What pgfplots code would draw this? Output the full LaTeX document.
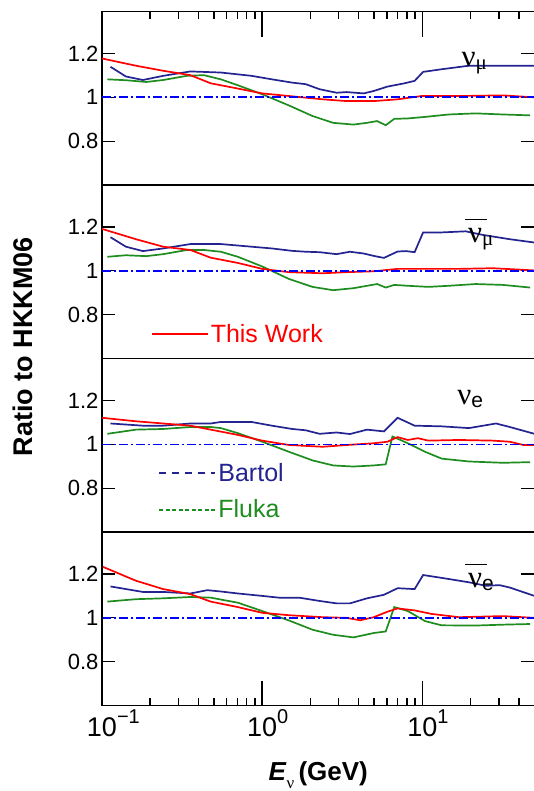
\documentclass[border=0pt]{standalone}
\usepackage{fontspec}
\setmainfont{Liberation Sans}
\newfontfamily\greekfont{Liberation Serif}
\usepackage{pgfplots}
\pgfplotsset{compat=1.18}
\definecolor{cred}{RGB}{255,0,0}
\definecolor{cnavy}{RGB}{35,35,145}
\definecolor{cgreen}{RGB}{30,140,30}
\definecolor{cblue}{RGB}{0,0,255}
\newcommand{\nusym}[1]{{\greekfont\fontsize{31}{31}\selectfont ν}\raisebox{-0.28em}{\fontsize{21}{21}\selectfont #1}}
\newcommand{\nubarsym}[1]{\makebox[0pt][l]{\hspace{-3pt}\raisebox{23pt}{\rule{22pt}{1.3pt}}}\nusym{#1}}
\pgfplotsset{
  myfluxpanel/.style={
    xmin=0.1, xmax=50, ymin=0.6, ymax=1.39,
    scale only axis, width=432.4pt, height=173.5pt,
    anchor=north west,
    axis line style={line width=1.5pt},
    tick align=inside,
    tick style={black, line width=1.2pt},
    major tick length=13pt, minor tick length=7.5pt,
    ytick={0.8,1,1.2}, yticklabels={0.8,1,1.2}, ytick pos=both, yticklabel pos=left,
    yticklabel style={font=\fontsize{22}{22}\selectfont},
    xticklabel style={font=\fontsize{27}{27}\selectfont},
    xtick=\empty, xminorticks=false,
    unbounded coords=jump,
    legend image code/.code={\draw[##1] (0pt,0pt) -- (46pt,0pt); \path (0pt,0pt) -- (56pt,0pt);},
  },
  myxtickaxis/.style={
    xmin=0.1, xmax=50, ymin=0.6, ymax=1.39,
    scale only axis, width=432.4pt, height=173.5pt,
    anchor=north west,
    axis line style={line width=1.5pt},
    tick align=inside,
    tick style={black, line width=1.2pt},
    major tick length=25pt, minor tick length=7.5pt,
    ytick=\empty,
    xtick={0.1,1,10},
    minor xtick={0.2,0.3,0.4,0.5,0.6,0.7,0.8,0.9,2,3,4,5,6,7,8,9,20,30,40},
    xticklabel style={font=\fontsize{27}{27}\selectfont},
  },
  tickseg/.style={black, line width=1.5pt, mark=none, forget plot},
  thiswork/.style={cred, line width=1.7pt, mark=none, forget plot},
  bartol/.style={cnavy, line width=1.7pt, mark=none, forget plot},
  fluka/.style={cgreen, line width=1.7pt, mark=none, forget plot},
  hkkm/.style={cblue, line width=1.7pt, dash pattern=on 9pt off 3pt on 2pt off 3pt, mark=none, forget plot},
}
\begin{document}
\begin{tikzpicture}
\path[use as bounding box] (-102pt,11.7pt) rectangle (431pt,-779.3pt);
% ---------- panel 1: nu_mu
\begin{semilogxaxis}[myfluxpanel, name=p1, at={(0pt,0pt)}]
\addplot[fluka] coordinates {(0.108,1.082) (0.141,1.078) (0.189,1.070) (0.241,1.079) (0.339,1.098) (0.433,1.101) (0.552,1.082) (0.705,1.055) (1.0,1.014) (1.47,0.963) (2.06,0.915) (2.77,0.884) (3.71,0.876) (4.51,0.884) (5.22,0.892) (5.90,0.873) (6.67,0.902) (8.11,0.904) (10.4,0.911) (14.6,0.922) (21.5,0.927) (31.8,0.922) (47.0,0.918)};
\addplot[bartol] coordinates {(0.113,1.139) (0.141,1.095) (0.180,1.079) (0.241,1.098) (0.356,1.118) (0.552,1.113) (0.857,1.098) (1.15,1.082) (1.54,1.067) (1.87,1.060) (2.28,1.037) (2.91,1.021) (3.36,1.024) (4.30,1.018) (4.97,1.029) (6.05,1.049) (7.73,1.064) (8.94,1.075) (10.1,1.116) (13.2,1.128) (19.5,1.144) (27.5,1.144) (50,1.144)};
\addplot[thiswork] coordinates {(0.1,1.177) (0.163,1.144) (0.241,1.121) (0.356,1.101) (0.477,1.064) (0.705,1.040) (1.0,1.018) (1.47,1.006) (2.39,0.991) (3.36,0.983) (4.97,0.983) (7.0,0.991) (9.86,1.006) (16.9,1.006) (31.8,1.009) (50,1.0)};
\addplot[hkkm] coordinates {(0.1,1) (50,1)};
% x tick marks along the top edge (major, then minor)
\addplot[tickseg] coordinates {(1,1.39) (1,1.276) (1,nan) (10,1.39) (10,1.276)};
\addplot[tickseg] coordinates {(0.2,1.39) (0.2,1.356) (0.2,nan) (0.3,1.39) (0.3,1.356) (0.3,nan) (0.4,1.39) (0.4,1.356) (0.4,nan) (0.5,1.39) (0.5,1.356) (0.5,nan) (0.6,1.39) (0.6,1.356) (0.6,nan) (0.7,1.39) (0.7,1.356) (0.7,nan) (0.8,1.39) (0.8,1.356) (0.8,nan) (0.9,1.39) (0.9,1.356) (0.9,nan) (2,1.39) (2,1.356) (2,nan) (3,1.39) (3,1.356) (3,nan) (4,1.39) (4,1.356) (4,nan) (5,1.39) (5,1.356) (5,nan) (6,1.39) (6,1.356) (6,nan) (7,1.39) (7,1.356) (7,nan) (8,1.39) (8,1.356) (8,nan) (9,1.39) (9,1.356) (9,nan) (20,1.39) (20,1.356) (20,nan) (30,1.39) (30,1.356) (30,nan) (40,1.39) (40,1.356)};
\node[anchor=base west, inner sep=0pt] at (axis cs:17.5,1.139) {\nusym{\greekfont μ}};
\end{semilogxaxis}
% ---------- panel 2: anti nu_mu
\begin{semilogxaxis}[myfluxpanel, name=p2, at={(0pt,-173.5pt)},
  ylabel={Ratio to HKKM06},
  ylabel style={font=\bfseries\fontsize{27}{27}\selectfont, at={(axis description cs:-0.183,0.07)}, anchor=center},
  legend cell align=left,
  legend style={draw=none, fill=none, at={(axis description cs:0.113,0.144)}, anchor=west, inner sep=0pt, font=\fontsize{25}{25}\selectfont}]
\addlegendimage{cred, line width=1.7pt}
\addlegendentry{\textcolor{cred}{This Work}}
\addplot[fluka] coordinates {(0.108,1.064) (0.141,1.071) (0.189,1.067) (0.241,1.076) (0.339,1.095) (0.433,1.095) (0.552,1.087) (0.705,1.064) (1.0,1.020) (1.47,0.963) (2.06,0.927) (2.77,0.912) (3.71,0.921) (4.51,0.932) (5.22,0.940) (5.90,0.924) (6.67,0.936) (8.11,0.932) (10.9,0.927) (14.6,0.932) (21.5,0.940) (31.8,0.936) (47.0,0.924)};
\addplot[bartol] coordinates {(0.113,1.153) (0.141,1.110) (0.180,1.090) (0.241,1.102) (0.356,1.122) (0.552,1.122) (0.857,1.110) (1.15,1.102) (1.54,1.091) (1.87,1.087) (2.28,1.085) (2.91,1.076) (3.53,1.087) (4.30,1.079) (4.97,1.068) (5.75,1.059) (7.0,1.088) (7.9,1.090) (8.94,1.085) (10.1,1.175) (13.2,1.175) (18.6,1.180) (23.7,1.164) (35.1,1.144) (50,1.129)};
\addplot[thiswork] coordinates {(0.1,1.191) (0.163,1.144) (0.241,1.110) (0.356,1.095) (0.477,1.060) (0.705,1.036) (1.0,1.009) (1.47,0.994) (2.39,0.989) (3.36,0.994) (4.97,0.998) (7.0,1.009) (10.4,1.009) (16.9,1.009) (27.5,1.012) (50,1.002)};
\addplot[hkkm] coordinates {(0.1,1) (50,1)};
\node[anchor=base west, inner sep=0pt] at (axis cs:19.2,1.127) {\nubarsym{\greekfont μ}};
\end{semilogxaxis}
% ---------- panel 3: nu_e
\begin{semilogxaxis}[myfluxpanel, name=p3, at={(0pt,-347pt)},
  legend cell align=left,
  legend style={draw=none, fill=none, at={(axis description cs:0.13,0.236)}, anchor=west, inner sep=0pt, row sep=13pt, font=\fontsize{25}{25}\selectfont}]
\addlegendimage{cnavy, line width=1.7pt, dash pattern=on 7pt off 6pt}
\addlegendentry{\textcolor{cnavy}{Bartol}}
\addlegendimage{cgreen, line width=2pt, dash pattern=on 4pt off 2.5pt}
\addlegendentry{\textcolor{cgreen}{Fluka}}
\addplot[fluka] coordinates {(0.108,1.048) (0.163,1.067) (0.241,1.070) (0.356,1.079) (0.477,1.079) (0.552,1.074) (0.705,1.051) (1.0,1.012) (1.47,0.966) (2.06,0.927) (2.77,0.904) (3.71,0.899) (4.97,0.904) (5.90,0.909) (6.50,1.036) (8.11,1.005) (10.4,0.966) (13.2,0.935) (19.5,0.922) (31.8,0.916) (47.0,0.919)};
\addplot[bartol] coordinates {(0.113,1.095) (0.180,1.085) (0.241,1.085) (0.356,1.095) (0.477,1.095) (0.552,1.102) (0.857,1.102) (1.15,1.085) (1.54,1.070) (1.87,1.064) (2.28,1.048) (2.91,1.054) (3.53,1.047) (4.51,1.067) (5.75,1.059) (7.0,1.121) (8.94,1.085) (13.2,1.082) (19.5,1.074) (28.8,1.095) (35.1,1.079) (50,1.048)};
\addplot[thiswork] coordinates {(0.1,1.121) (0.163,1.105) (0.241,1.095) (0.356,1.085) (0.477,1.067) (0.705,1.043) (1.0,1.017) (1.47,0.997) (2.39,0.989) (3.36,0.997) (4.97,1.005) (6.05,1.012) (7.0,1.033) (8.11,1.020) (9.37,1.028) (10.9,1.017) (16.9,1.020) (27.5,1.017) (35.1,1.012) (42.7,0.997) (50,0.997)};
\addplot[hkkm] coordinates {(0.1,1) (50,1)};
\node[anchor=base west, inner sep=0pt] at (axis cs:16.5,1.182) {\nusym{e}};
\end{semilogxaxis}
% ---------- panel 4: anti nu_e
\begin{semilogxaxis}[myfluxpanel, name=p4, at={(0pt,-520.5pt)}]
\addplot[fluka] coordinates {(0.108,1.074) (0.163,1.085) (0.241,1.089) (0.356,1.095) (0.477,1.092) (0.705,1.069) (1.0,1.031) (1.47,0.988) (2.06,0.946) (2.77,0.923) (3.71,0.911) (4.97,0.931) (5.90,0.938) (6.67,1.049) (8.11,1.031) (10.4,0.985) (13.2,0.966) (21.5,0.965) (31.8,0.969) (47.0,0.972)};
\addplot[bartol] coordinates {(0.113,1.143) (0.180,1.118) (0.241,1.118) (0.356,1.111) (0.454,1.126) (0.552,1.120) (0.705,1.111) (1.0,1.100) (1.27,1.092) (1.70,1.092) (2.28,1.077) (2.91,1.066) (3.53,1.066) (4.51,1.089) (5.75,1.105) (7.0,1.135) (8.94,1.131) (10.1,1.195) (13.2,1.182) (19.5,1.162) (24.9,1.146) (30.3,1.149) (35.1,1.138) (50,1.100)};
\addplot[thiswork] coordinates {(0.1,1.234) (0.163,1.169) (0.241,1.131) (0.356,1.108) (0.477,1.074) (0.705,1.049) (1.0,1.023) (1.47,1.012) (2.39,1.003) (3.36,1.0) (4.09,0.989) (4.97,1.003) (6.05,1.028) (7.0,1.043) (8.94,1.034) (11.4,1.018) (16.9,1.003) (31.8,1.008) (50,1.0)};
\addplot[hkkm] coordinates {(0.1,1) (50,1)};
% x tick marks along the bottom edge (major, then minor)
\addplot[tickseg] coordinates {(1,0.6) (1,0.714) (1,nan) (10,0.6) (10,0.714)};
\addplot[tickseg] coordinates {(0.2,0.6) (0.2,0.634) (0.2,nan) (0.3,0.6) (0.3,0.634) (0.3,nan) (0.4,0.6) (0.4,0.634) (0.4,nan) (0.5,0.6) (0.5,0.634) (0.5,nan) (0.6,0.6) (0.6,0.634) (0.6,nan) (0.7,0.6) (0.7,0.634) (0.7,nan) (0.8,0.6) (0.8,0.634) (0.8,nan) (0.9,0.6) (0.9,0.634) (0.9,nan) (2,0.6) (2,0.634) (2,nan) (3,0.6) (3,0.634) (3,nan) (4,0.6) (4,0.634) (4,nan) (5,0.6) (5,0.634) (5,nan) (6,0.6) (6,0.634) (6,nan) (7,0.6) (7,0.634) (7,nan) (8,0.6) (8,0.634) (8,nan) (9,0.6) (9,0.634) (9,nan) (20,0.6) (20,0.634) (20,nan) (30,0.6) (30,0.634) (30,nan) (40,0.6) (40,0.634)};
\node[anchor=base west, inner sep=0pt] at (axis cs:19.2,1.136) {\nubarsym{e}};
\end{semilogxaxis}
\begin{semilogxaxis}[myxtickaxis, at={(0pt,-520.5pt)}, xtick pos=left,
  xticklabels={10\rlap{\raisebox{0.5em}{\fontsize{20}{20}\selectfont −1}},10\rlap{\raisebox{0.5em}{\fontsize{20}{20}\selectfont 0}},10\rlap{\raisebox{0.5em}{\fontsize{20}{20}\selectfont 1}}},
  xlabel={\textbf{\textit{E}}\raisebox{-0.3em}{\fontsize{17}{17}\selectfont\greekfont ν}\,\textbf{(GeV)}},
  xlabel style={font=\fontsize{26}{26}\selectfont, yshift=-18pt}]
\addplot[draw=none, mark=none, forget plot] coordinates {(0.1,1) (50,1)};
\end{semilogxaxis}
\end{tikzpicture}
\end{document}
